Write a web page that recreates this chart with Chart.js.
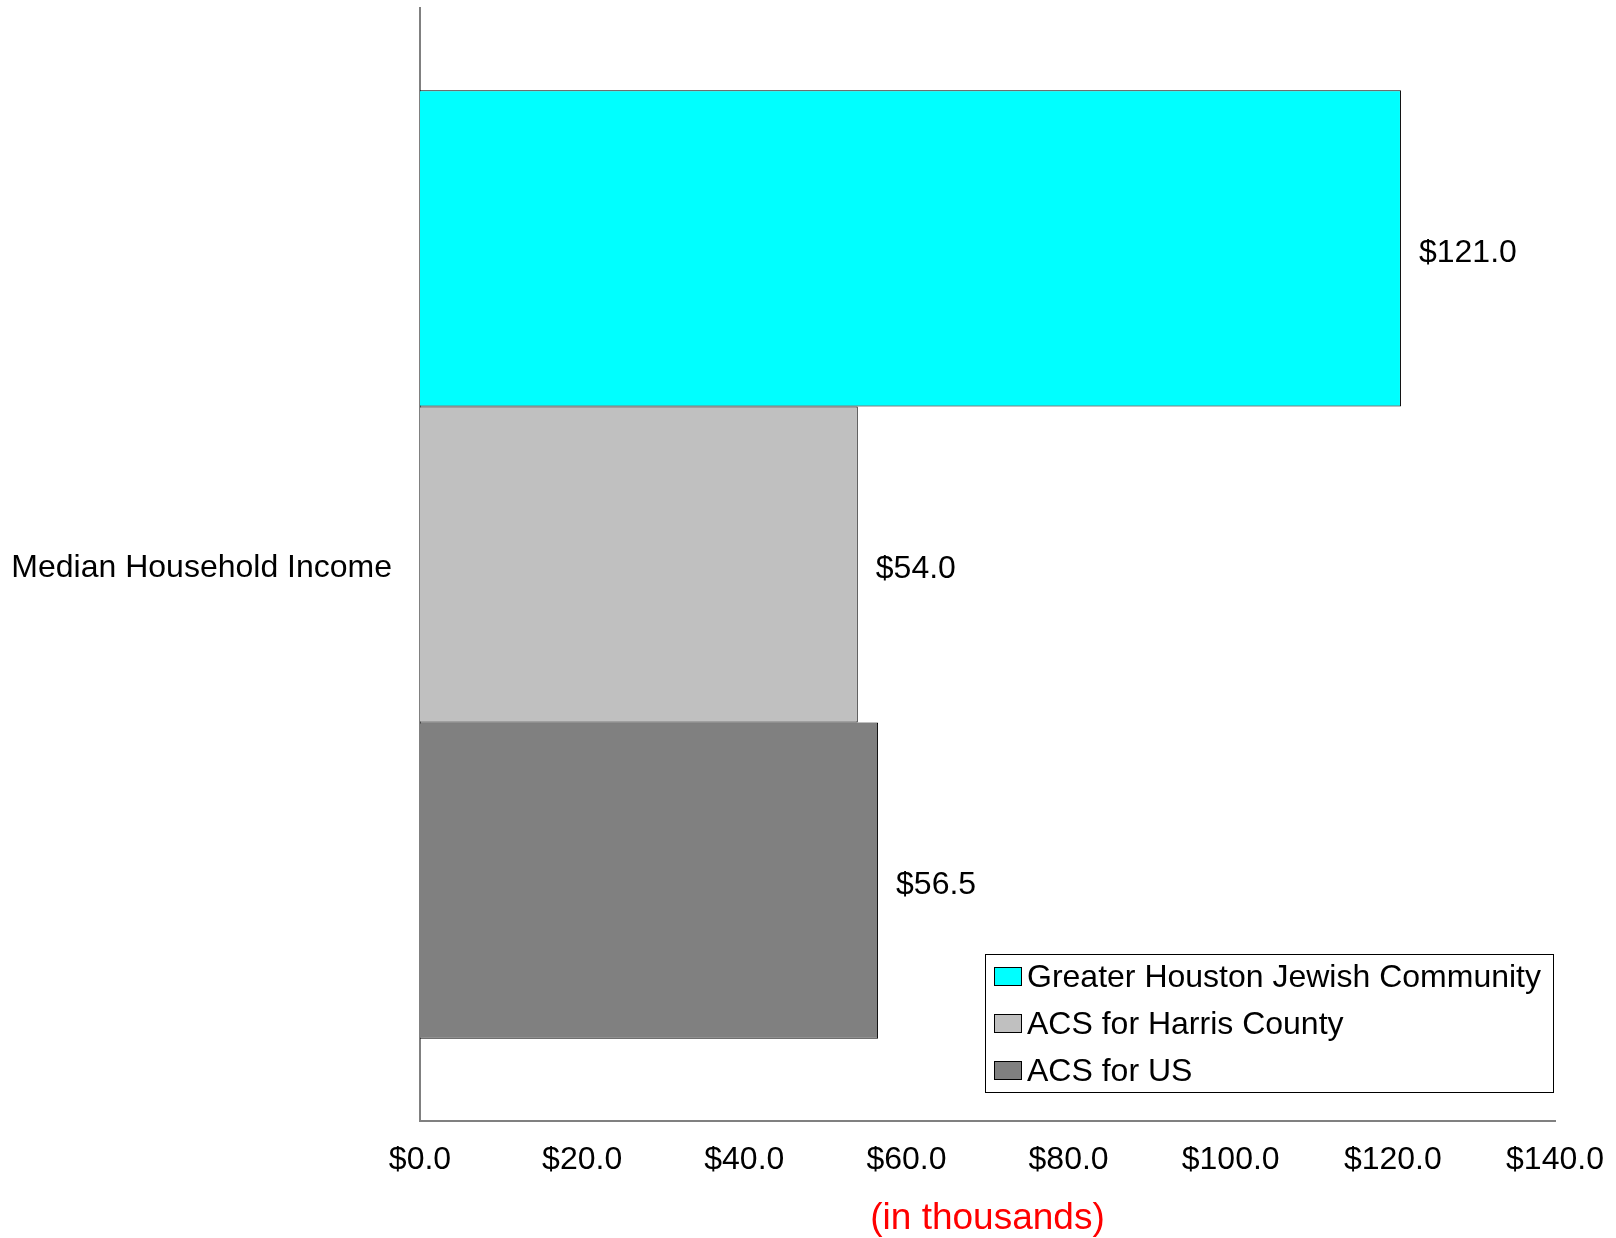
<!DOCTYPE html>
<html>
<head>
<meta charset="utf-8">
<script src="https://cdn.jsdelivr.net/npm/chart.js@4/dist/chart.umd.min.js"></script>
<style>
html,body{margin:0;padding:0;background:#fff;}
#wrap{width:1616px;height:1238px;position:relative;}
</style>
</head>
<body>
<div id="wrap"><canvas id="c" width="1616" height="1238"></canvas></div>
<script>
const categories = ["Median Household Income"];
const seriesNames = ["Greater Houston Jewish Community", "ACS for Harris County", "ACS for US"];
const jewishCommunity = [121.0];
const harrisCounty = [54.0];
const usValues = [56.5];
const seriesColors = ["#00FFFF", "#C0C0C0", "#808080"];
const xTicks = [0, 20, 40, 60, 80, 100, 120, 140];
const axisTitle = "(in thousands)";

const FONT = "'Liberation Sans', Arial, sans-serif";

const valueLabels = {
  id: 'valueLabels',
  afterDatasetsDraw(chart) {
    const ctx = chart.ctx;
    ctx.save();
    ctx.font = "32px " + FONT;
    ctx.fillStyle = "#000";
    ctx.textBaseline = "middle";
    ctx.textAlign = "left";
    chart.data.datasets.forEach((ds, i) => {
      const meta = chart.getDatasetMeta(i);
      meta.data.forEach((bar, j) => {
        ctx.fillText("$" + ds.data[j].toFixed(1), bar.x + 18, bar.y + 5);
      });
    });
    ctx.restore();
  }
};

const boxLegend = {
  id: 'boxLegend',
  afterDraw(chart) {
    const ctx = chart.ctx;
    const x0 = 985, y0 = 954, w = 568, h = 138;
    ctx.save();
    ctx.fillStyle = "#fff";
    ctx.fillRect(x0, y0, w, h);
    ctx.strokeStyle = "#000";
    ctx.lineWidth = 1;
    ctx.strokeRect(x0 + 0.5, y0 + 0.5, w, h);
    ctx.font = "32px " + FONT;
    ctx.textBaseline = "middle";
    ctx.textAlign = "left";
    chart.data.datasets.forEach((ds, i) => {
      const cy = 977 + i * 47;
      ctx.fillStyle = ds.backgroundColor;
      ctx.fillRect(994, cy - 10, 28, 19);
      ctx.strokeStyle = "#000";
      ctx.strokeRect(994.5, cy - 9.5, 27, 18);
      ctx.fillStyle = "#000";
      ctx.fillText(ds.label, 1027, cy + 1);
    });
    ctx.restore();
  }
};

const seriesData = [jewishCommunity, harrisCounty, usValues];

new Chart(document.getElementById('c'), {
  type: 'bar',
  data: {
    labels: categories,
    datasets: seriesNames.map((name, i) => ({
      label: name,
      data: seriesData[i],
      backgroundColor: seriesColors[i],
      borderColor: "#000",
      borderWidth: 1,
      barPercentage: 1.0,
      categoryPercentage: 0.852
    }))
  },
  options: {
    indexAxis: 'y',
    responsive: false,
    animation: false,
    devicePixelRatio: 1,
    layout: { padding: { top: 8, left: 0, right: 61, bottom: 0 } },
    plugins: {
      legend: { display: false },
      tooltip: { enabled: false }
    },
    scales: {
      x: {
        min: 0,
        max: 140,
        afterBuildTicks(scale) { scale.ticks = xTicks.map(v => ({ value: v })); },
        afterFit(scale) { scale.height = 117; scale.paddingLeft = 0; scale.paddingRight = 0; },
        grid: { display: false, drawTicks: false },
        border: { display: true, color: "#808080", width: 2 },
        ticks: {
          color: "#000",
          font: { family: FONT, size: 32 },
          padding: 20,
          maxRotation: 0,
          autoSkip: false,
          callback: (v) => "$" + Number(v).toFixed(1)
        },
        title: {
          display: true,
          text: axisTitle,
          color: "#FF0000",
          font: { family: FONT, size: 37 },
          padding: { top: 9, bottom: -3 }
        }
      },
      y: {
        afterFit(scale) { scale.width = 420; scale.paddingTop = 0; scale.paddingBottom = 0; },
        grid: { display: false, drawTicks: false },
        border: { display: true, color: "#808080", width: 2 },
        ticks: {
          color: "#000",
          font: { family: FONT, size: 32 },
          padding: 28,
          labelOffset: 4
        }
      }
    }
  },
  plugins: [valueLabels, boxLegend]
});
</script>
</body>
</html>
